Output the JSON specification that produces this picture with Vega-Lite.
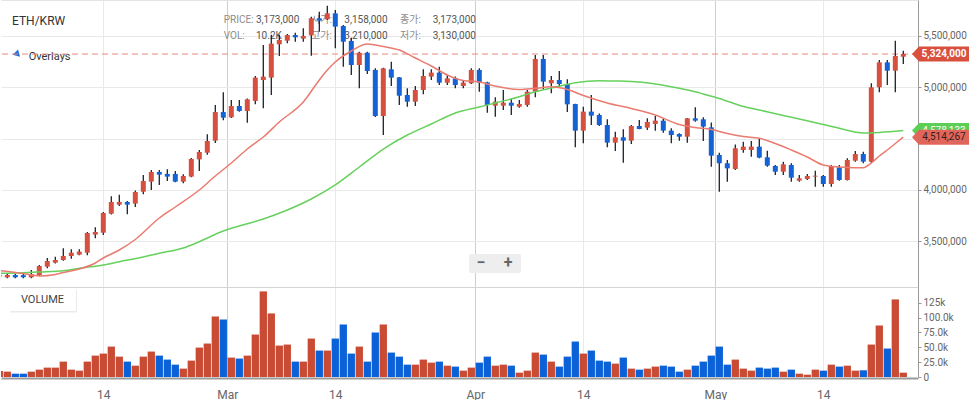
{
  "$schema": "https://vega.github.io/schema/vega-lite/v6.json",
  "padding": 0,
  "background": "white",
  "spacing": 0,
  "data": {"values": [{}]},
  "config": {
    "view": {"stroke": null},
    "font": "Roboto, Noto Sans CJK KR, sans-serif"
  },
  "datasets": {
    "candles": [
      {"d":"2024-02-01","o":3158000,"h":3210000,"l":3130000,"c":3173000,"v":10200},
      {"d":"2024-02-02","o":3149000,"h":3181000,"l":3139000,"c":3172000,"v":9000},
      {"d":"2024-02-03","o":3172000,"h":3185000,"l":3140000,"c":3149000,"v":5600},
      {"d":"2024-02-04","o":3170000,"h":3188000,"l":3139000,"c":3150000,"v":5600},
      {"d":"2024-02-05","o":3149000,"h":3220000,"l":3139000,"c":3181000,"v":9000},
      {"d":"2024-02-06","o":3172000,"h":3269000,"l":3162000,"c":3259000,"v":12400},
      {"d":"2024-02-07","o":3253000,"h":3337000,"l":3237000,"c":3308000,"v":15800},
      {"d":"2024-02-08","o":3292000,"h":3350000,"l":3285000,"c":3318000,"v":15800},
      {"d":"2024-02-09","o":3318000,"h":3432000,"l":3311000,"c":3357000,"v":25900},
      {"d":"2024-02-10","o":3357000,"h":3422000,"l":3331000,"c":3389000,"v":12400},
      {"d":"2024-02-11","o":3370000,"h":3422000,"l":3363000,"c":3399000,"v":10700},
      {"d":"2024-02-12","o":3389000,"h":3591000,"l":3363000,"c":3581000,"v":25900},
      {"d":"2024-02-13","o":3565000,"h":3636000,"l":3529000,"c":3591000,"v":36000},
      {"d":"2024-02-14","o":3584000,"h":3785000,"l":3562000,"c":3776000,"v":39400},
      {"d":"2024-02-15","o":3769000,"h":3938000,"l":3760000,"c":3883000,"v":51200},
      {"d":"2024-02-16","o":3857000,"h":3954000,"l":3844000,"c":3883000,"v":34300},
      {"d":"2024-02-17","o":3883000,"h":3893000,"l":3763000,"c":3857000,"v":25900},
      {"d":"2024-02-18","o":3867000,"h":3996000,"l":3834000,"c":3980000,"v":19100},
      {"d":"2024-02-19","o":3983000,"h":4146000,"l":3958000,"c":4087000,"v":34300},
      {"d":"2024-02-20","o":4081000,"h":4195000,"l":4000000,"c":4175000,"v":42800},
      {"d":"2024-02-21","o":4175000,"h":4195000,"l":4048000,"c":4149000,"v":36000},
      {"d":"2024-02-22","o":4156000,"h":4201000,"l":4087000,"c":4130000,"v":29300},
      {"d":"2024-02-23","o":4156000,"h":4185000,"l":4075000,"c":4081000,"v":20800},
      {"d":"2024-02-24","o":4081000,"h":4152000,"l":4065000,"c":4136000,"v":14100},
      {"d":"2024-02-25","o":4130000,"h":4311000,"l":4123000,"c":4302000,"v":27600},
      {"d":"2024-02-26","o":4298000,"h":4389000,"l":4185000,"c":4370000,"v":49500},
      {"d":"2024-02-27","o":4363000,"h":4542000,"l":4344000,"c":4477000,"v":56300},
      {"d":"2024-02-28","o":4480000,"h":4828000,"l":4458000,"c":4759000,"v":101900},
      {"d":"2024-02-29","o":4759000,"h":4951000,"l":4678000,"c":4704000,"v":96800},
      {"d":"2024-03-01","o":4708000,"h":4876000,"l":4700000,"c":4818000,"v":32700},
      {"d":"2024-03-02","o":4818000,"h":4876000,"l":4763000,"c":4769000,"v":31000},
      {"d":"2024-03-03","o":4769000,"h":4890000,"l":4655000,"c":4883000,"v":36000},
      {"d":"2024-03-04","o":4867000,"h":5110000,"l":4834000,"c":5094000,"v":71500},
      {"d":"2024-03-05","o":5071000,"h":5412000,"l":4795000,"c":5104000,"v":144100},
      {"d":"2024-03-06","o":5094000,"h":5513000,"l":4925000,"c":5425000,"v":107000},
      {"d":"2024-03-07","o":5419000,"h":5513000,"l":5305000,"c":5461000,"v":52900},
      {"d":"2024-03-08","o":5454000,"h":5519000,"l":5428000,"c":5509000,"v":54600},
      {"d":"2024-03-09","o":5509000,"h":5532000,"l":5444000,"c":5487000,"v":25900},
      {"d":"2024-03-10","o":5474000,"h":5574000,"l":5444000,"c":5500000,"v":25900},
      {"d":"2024-03-11","o":5506000,"h":5688000,"l":5308000,"c":5672000,"v":64700},
      {"d":"2024-03-12","o":5672000,"h":5737000,"l":5542000,"c":5649000,"v":44500},
      {"d":"2024-03-13","o":5662000,"h":5795000,"l":5655000,"c":5720000,"v":44500},
      {"d":"2024-03-14","o":5720000,"h":5753000,"l":5380000,"c":5591000,"v":64700},
      {"d":"2024-03-15","o":5597000,"h":5607000,"l":5201000,"c":5444000,"v":88400},
      {"d":"2024-03-16","o":5451000,"h":5483000,"l":5120000,"c":5217000,"v":39400},
      {"d":"2024-03-17","o":5217000,"h":5347000,"l":4990000,"c":5337000,"v":51200},
      {"d":"2024-03-18","o":5337000,"h":5347000,"l":5130000,"c":5159000,"v":25900},
      {"d":"2024-03-19","o":5169000,"h":5185000,"l":4710000,"c":4720000,"v":74900},
      {"d":"2024-03-20","o":4720000,"h":5190000,"l":4535000,"c":5185000,"v":88400},
      {"d":"2024-03-21","o":5175000,"h":5250000,"l":5013000,"c":5094000,"v":41100},
      {"d":"2024-03-22","o":5097000,"h":5100000,"l":4828000,"c":4918000,"v":34300},
      {"d":"2024-03-23","o":4925000,"h":4990000,"l":4811000,"c":4860000,"v":20800},
      {"d":"2024-03-24","o":4860000,"h":5013000,"l":4818000,"c":4974000,"v":20800},
      {"d":"2024-03-25","o":4974000,"h":5175000,"l":4932000,"c":5110000,"v":29300},
      {"d":"2024-03-26","o":5104000,"h":5175000,"l":5071000,"c":5143000,"v":24200},
      {"d":"2024-03-27","o":5143000,"h":5201000,"l":5022000,"c":5045000,"v":25900},
      {"d":"2024-03-28","o":5045000,"h":5120000,"l":5022000,"c":5087000,"v":19100},
      {"d":"2024-03-29","o":5087000,"h":5104000,"l":4990000,"c":5022000,"v":17500},
      {"d":"2024-03-30","o":5013000,"h":5071000,"l":4990000,"c":5045000,"v":10700},
      {"d":"2024-03-31","o":5039000,"h":5185000,"l":5032000,"c":5169000,"v":15800},
      {"d":"2024-04-01","o":5169000,"h":5185000,"l":4957000,"c":5045000,"v":24200},
      {"d":"2024-04-02","o":5048000,"h":5055000,"l":4753000,"c":4828000,"v":34300},
      {"d":"2024-04-03","o":4821000,"h":4902000,"l":4714000,"c":4860000,"v":19100},
      {"d":"2024-04-04","o":4821000,"h":4974000,"l":4779000,"c":4850000,"v":20800},
      {"d":"2024-04-05","o":4850000,"h":4886000,"l":4730000,"c":4821000,"v":19100},
      {"d":"2024-04-06","o":4811000,"h":4876000,"l":4802000,"c":4837000,"v":7300},
      {"d":"2024-04-07","o":4828000,"h":4974000,"l":4811000,"c":4957000,"v":10700},
      {"d":"2024-04-08","o":4957000,"h":5315000,"l":4902000,"c":5276000,"v":41100},
      {"d":"2024-04-09","o":5276000,"h":5315000,"l":4983000,"c":5055000,"v":37700},
      {"d":"2024-04-10","o":5039000,"h":5110000,"l":4941000,"c":5071000,"v":25900},
      {"d":"2024-04-11","o":5071000,"h":5159000,"l":5006000,"c":5032000,"v":17500},
      {"d":"2024-04-12","o":5032000,"h":5078000,"l":4759000,"c":4834000,"v":34300},
      {"d":"2024-04-13","o":4837000,"h":4840000,"l":4415000,"c":4578000,"v":59700},
      {"d":"2024-04-14","o":4578000,"h":4811000,"l":4454000,"c":4763000,"v":39400},
      {"d":"2024-04-15","o":4763000,"h":4925000,"l":4633000,"c":4724000,"v":44500},
      {"d":"2024-04-16","o":4730000,"h":4746000,"l":4623000,"c":4633000,"v":27600},
      {"d":"2024-04-17","o":4633000,"h":4688000,"l":4415000,"c":4461000,"v":25900},
      {"d":"2024-04-18","o":4461000,"h":4568000,"l":4380000,"c":4513000,"v":22500},
      {"d":"2024-04-19","o":4513000,"h":4591000,"l":4266000,"c":4480000,"v":32700},
      {"d":"2024-04-20","o":4480000,"h":4633000,"l":4448000,"c":4623000,"v":14100},
      {"d":"2024-04-21","o":4623000,"h":4681000,"l":4591000,"c":4594000,"v":12400},
      {"d":"2024-04-22","o":4607000,"h":4698000,"l":4584000,"c":4662000,"v":14100},
      {"d":"2024-04-23","o":4643000,"h":4720000,"l":4578000,"c":4675000,"v":17500},
      {"d":"2024-04-24","o":4675000,"h":4698000,"l":4558000,"c":4578000,"v":19100},
      {"d":"2024-04-25","o":4578000,"h":4600000,"l":4454000,"c":4535000,"v":17500},
      {"d":"2024-04-26","o":4545000,"h":4552000,"l":4480000,"c":4519000,"v":9000},
      {"d":"2024-04-27","o":4519000,"h":4700000,"l":4461000,"c":4698000,"v":12400},
      {"d":"2024-04-28","o":4698000,"h":4805000,"l":4665000,"c":4675000,"v":19100},
      {"d":"2024-04-29","o":4688000,"h":4708000,"l":4477000,"c":4617000,"v":25900},
      {"d":"2024-04-30","o":4610000,"h":4656000,"l":4227000,"c":4334000,"v":36000},
      {"d":"2024-05-01","o":4341000,"h":4363000,"l":3983000,"c":4260000,"v":51200},
      {"d":"2024-05-02","o":4260000,"h":4292000,"l":4081000,"c":4211000,"v":20800},
      {"d":"2024-05-03","o":4204000,"h":4444000,"l":4194000,"c":4406000,"v":29300},
      {"d":"2024-05-04","o":4389000,"h":4470000,"l":4363000,"c":4422000,"v":14100},
      {"d":"2024-05-05","o":4389000,"h":4477000,"l":4324000,"c":4422000,"v":10700},
      {"d":"2024-05-06","o":4422000,"h":4503000,"l":4308000,"c":4315000,"v":15800},
      {"d":"2024-05-07","o":4318000,"h":4383000,"l":4227000,"c":4237000,"v":14100},
      {"d":"2024-05-08","o":4234000,"h":4243000,"l":4146000,"c":4178000,"v":15800},
      {"d":"2024-05-09","o":4178000,"h":4276000,"l":4146000,"c":4250000,"v":9000},
      {"d":"2024-05-10","o":4243000,"h":4260000,"l":4081000,"c":4120000,"v":12400},
      {"d":"2024-05-11","o":4091000,"h":4146000,"l":4081000,"c":4113000,"v":5600},
      {"d":"2024-05-12","o":4107000,"h":4155000,"l":4097000,"c":4136000,"v":3900},
      {"d":"2024-05-13","o":4130000,"h":4188000,"l":4032000,"c":4139000,"v":12400},
      {"d":"2024-05-14","o":4136000,"h":4146000,"l":4032000,"c":4058000,"v":10700},
      {"d":"2024-05-15","o":4058000,"h":4243000,"l":4032000,"c":4233000,"v":20800},
      {"d":"2024-05-16","o":4220000,"h":4243000,"l":4090000,"c":4097000,"v":17500},
      {"d":"2024-05-17","o":4097000,"h":4308000,"l":4091000,"c":4292000,"v":19100},
      {"d":"2024-05-18","o":4285000,"h":4380000,"l":4276000,"c":4350000,"v":10700},
      {"d":"2024-05-19","o":4350000,"h":4373000,"l":4260000,"c":4276000,"v":11300},
      {"d":"2024-05-20","o":4276000,"h":5039000,"l":4260000,"c":5000000,"v":54600},
      {"d":"2024-05-21","o":5000000,"h":5266000,"l":4951000,"c":5243000,"v":86700},
      {"d":"2024-05-22","o":5243000,"h":5266000,"l":5022000,"c":5162000,"v":47900},
      {"d":"2024-05-23","o":5162000,"h":5454000,"l":4951000,"c":5305000,"v":130600},
      {"d":"2024-05-24","o":5298000,"h":5357000,"l":5227000,"c":5324000,"v":7300}
    ],
    "ma_fast": [
      {"d":"2024-02-01","m":3215600},{"d":"2024-02-04","m":3186400},{"d":"2024-02-06","m":3162100},
      {"d":"2024-02-08","m":3176700},{"d":"2024-02-09","m":3196200},{"d":"2024-02-11","m":3230200},
      {"d":"2024-02-13","m":3288700},{"d":"2024-02-14","m":3337400},{"d":"2024-02-16","m":3415300},
      {"d":"2024-02-18","m":3517600},{"d":"2024-02-21","m":3727000},{"d":"2024-02-23","m":3834100},
      {"d":"2024-02-26","m":3999700},{"d":"2024-02-28","m":4136100},{"d":"2024-03-01","m":4262700},
      {"d":"2024-03-03","m":4399000},{"d":"2024-03-05","m":4515900},{"d":"2024-03-07","m":4662000},
      {"d":"2024-03-10","m":4856800},{"d":"2024-03-12","m":5071100},{"d":"2024-03-13","m":5168500},
      {"d":"2024-03-14","m":5246400},{"d":"2024-03-16","m":5353600},{"d":"2024-03-18","m":5421700},
      {"d":"2024-03-20","m":5397400},{"d":"2024-03-22","m":5363300},{"d":"2024-03-24","m":5285400},
      {"d":"2024-03-26","m":5207500},{"d":"2024-03-28","m":5119800},{"d":"2024-03-30","m":5066200},
      {"d":"2024-04-01","m":5051600},{"d":"2024-04-03","m":5012700},{"d":"2024-04-06","m":4978600},
      {"d":"2024-04-08","m":4990300},{"d":"2024-04-10","m":5004900},{"d":"2024-04-12","m":4978600},
      {"d":"2024-04-14","m":4920100},{"d":"2024-04-17","m":4847100},{"d":"2024-04-20","m":4793500},
      {"d":"2024-04-23","m":4730200},{"d":"2024-04-26","m":4637700},{"d":"2024-04-28","m":4608500},
      {"d":"2024-04-30","m":4589000},{"d":"2024-05-02","m":4550000},{"d":"2024-05-04","m":4520800},
      {"d":"2024-05-06","m":4503300},{"d":"2024-05-08","m":4452600},{"d":"2024-05-10","m":4389300},
      {"d":"2024-05-12","m":4321100},{"d":"2024-05-14","m":4243200},{"d":"2024-05-16","m":4223700},
      {"d":"2024-05-18","m":4216900},{"d":"2024-05-19","m":4216900},{"d":"2024-05-20","m":4262700},
      {"d":"2024-05-21","m":4330900},{"d":"2024-05-22","m":4389300},{"d":"2024-05-23","m":4452600},
      {"d":"2024-05-24","m":4514267}
    ],
    "ma_slow": [
      {"d":"2024-02-01","m":3188400},{"d":"2024-02-04","m":3194200},{"d":"2024-02-06","m":3201000},
      {"d":"2024-02-09","m":3213700},{"d":"2024-02-11","m":3237100},{"d":"2024-02-14","m":3269200},
      {"d":"2024-02-16","m":3301300},{"d":"2024-02-19","m":3347100},{"d":"2024-02-21","m":3383200},
      {"d":"2024-02-24","m":3434800},{"d":"2024-02-26","m":3496100},{"d":"2024-02-29","m":3600400},
      {"d":"2024-03-02","m":3649100},{"d":"2024-03-05","m":3717200},{"d":"2024-03-08","m":3804900},
      {"d":"2024-03-11","m":3912000},{"d":"2024-03-14","m":4048400},{"d":"2024-03-17","m":4223700},
      {"d":"2024-03-20","m":4399000},{"d":"2024-03-23","m":4535400},{"d":"2024-03-26","m":4642500},
      {"d":"2024-03-29","m":4749700},{"d":"2024-04-01","m":4808100},{"d":"2024-04-03","m":4847100},
      {"d":"2024-04-06","m":4908400},{"d":"2024-04-08","m":4957100},{"d":"2024-04-11","m":5010700},
      {"d":"2024-04-13","m":5044800},{"d":"2024-04-16","m":5064300},{"d":"2024-04-18","m":5061400},
      {"d":"2024-04-21","m":5051600},{"d":"2024-04-23","m":5032100},{"d":"2024-04-26","m":4990300},
      {"d":"2024-04-28","m":4957100},{"d":"2024-04-29","m":4934700},{"d":"2024-05-01","m":4890900},
      {"d":"2024-05-04","m":4813000},{"d":"2024-05-06","m":4778900},{"d":"2024-05-09","m":4725300},
      {"d":"2024-05-11","m":4691200},{"d":"2024-05-14","m":4637700},{"d":"2024-05-16","m":4600700},
      {"d":"2024-05-19","m":4554900},{"d":"2024-05-21","m":4559800},{"d":"2024-05-24","m":4578100}
    ]
  },
  "vconcat": [
    {
      "width": 917,
      "height": 287,
      "resolve": {"axis": {"x": "independent", "y": "independent"}},
      "layer": [
        {
          "data": {"name": "candles"},
          "mark": {"type": "point", "opacity": 0, "size": 0, "clip": true},
          "encoding": {
            "x": {
              "field": "d", "type": "temporal",
              "scale": {"type":"utc","domain":[1706807160000, 1716710760000]},
              "axis": {
                "orient": "bottom", "title": null, "labels": false, "ticks": false,
                "domain": true, "domainColor": "#d4d4d4",
                "grid": true, "gridColor": "#e9e9e9",
                "values": [1707912000000, 1710417600000, 1713096000000, 1715688000000]
              }
            },
            "y": {
              "field": "c", "type": "quantitative",
              "scale": {"domain":[3054900,5850300],"nice":false,"zero":false},
              "axis": {
                "orient": "right", "title": null,
                "values": [3500000, 4000000, 4500000, 5000000, 5500000],
                "labelExpr": "datum.value == 4500000 ? '' : format(datum.value, ',d')",
                "labelColor": "#666666", "labelFontSize": 10, "labelPadding": 2,
                "tickSize": 3, "tickColor": "#999999", "domainColor": "#9a9a9a",
                "grid": true, "gridColor": "#e9e9e9"
              }
            }
          }
        },
        {
          "data": {"name": "candles"},
          "mark": {"type": "point", "opacity": 0, "size": 0, "clip": true},
          "encoding": {
            "x": {
              "field": "d", "type": "temporal",
              "axis": {
                "orient": "top", "title": null, "labels": false, "ticks": false,
                "domain": true, "domainColor": "#e4e4e4",
                "grid": true, "gridColor": "#cdcdcd",
                "values": [1709251200000, 1711929600000, 1714521600000]
              }
            },
            "y": {"field": "c", "type": "quantitative", "axis": null}
          }
        },
        {
          "mark": {"type": "text", "align": "left", "baseline": "alphabetic", "fontSize": 12, "color": "#333333"},
          "encoding": {
            "x": {"datum": {"year":2024,"month":2,"date":3,"hours":2,"minutes":6,"utc":true}, "type": "temporal", "axis": null},
            "y": {"datum": 5606800, "type": "quantitative", "axis": null},
            "text": {"value": "ETH/KRW"}
          }
        },
        {
          "mark": {"type": "point", "shape": "triangle-right", "filled": true, "size": 60, "color": "#2a6edb", "opacity": 1, "angle": 45},
          "encoding": {
            "x": {"datum": {"year":2024,"month":2,"date":3,"hours":19,"minutes":12,"utc":true}, "type": "temporal", "axis": null},
            "y": {"datum": 5319500, "type": "quantitative", "axis": null}
          }
        },
        {
          "mark": {"type": "text", "align": "left", "baseline": "alphabetic", "fontSize": 11, "color": "#333333"},
          "encoding": {
            "x": {"datum": {"year":2024,"month":2,"date":5,"hours":4,"minutes":12,"utc":true}, "type": "temporal", "axis": null},
            "y": {"datum": 5265900, "type": "quantitative", "axis": null},
            "text": {"value": "Overlays"}
          }
        },
        {
          "mark": {"type": "text", "align": "left", "baseline": "alphabetic", "fontSize": 10, "lineHeight": 16.5, "color": "#8c8c8c"},
          "encoding": {
            "x": {"datum": {"year":2024,"month":2,"date":29,"hours":13,"minutes":12,"utc":true}, "type": "temporal", "axis": null},
            "y": {"datum": 5626300, "type": "quantitative", "axis": null},
            "text": {"value": ["PRICE:", "VOL:"]}
          }
        },
        {
          "mark": {"type": "text", "align": "left", "baseline": "alphabetic", "fontSize": 10, "lineHeight": 16.5, "color": "#555555"},
          "encoding": {
            "x": {"datum": {"year":2024,"month":3,"date":4,"hours":14,"minutes":6,"utc":true}, "type": "temporal", "axis": null},
            "y": {"datum": 5626300, "type": "quantitative", "axis": null},
            "text": {"value": ["3,173,000", "10.2K"]}
          }
        },
        {
          "mark": {"type": "text", "align": "left", "baseline": "alphabetic", "fontSize": 10, "lineHeight": 16.5, "color": "#8c8c8c"},
          "encoding": {
            "x": {"datum": {"year":2024,"month":3,"date":11,"hours":11,"minutes":6,"utc":true}, "type": "temporal", "axis": null},
            "y": {"datum": 5626300, "type": "quantitative", "axis": null},
            "text": {"value": ["시가:", "고가:"]}
          }
        },
        {
          "mark": {"type": "text", "align": "left", "baseline": "alphabetic", "fontSize": 10, "lineHeight": 16.5, "color": "#555555"},
          "encoding": {
            "x": {"datum": {"year":2024,"month":3,"date":15,"hours":15,"minutes":6,"utc":true}, "type": "temporal", "axis": null},
            "y": {"datum": 5626300, "type": "quantitative", "axis": null},
            "text": {"value": ["3,158,000", "3,210,000"]}
          }
        },
        {
          "mark": {"type": "text", "align": "left", "baseline": "alphabetic", "fontSize": 10, "lineHeight": 16.5, "color": "#8c8c8c"},
          "encoding": {
            "x": {"datum": {"year":2024,"month":3,"date":22,"hours":14,"minutes":6,"utc":true}, "type": "temporal", "axis": null},
            "y": {"datum": 5626300, "type": "quantitative", "axis": null},
            "text": {"value": ["종가:", "저가:"]}
          }
        },
        {
          "mark": {"type": "text", "align": "left", "baseline": "alphabetic", "fontSize": 10, "lineHeight": 16.5, "color": "#555555"},
          "encoding": {
            "x": {"datum": {"year":2024,"month":3,"date":26,"hours":16,"minutes":6,"utc":true}, "type": "temporal", "axis": null},
            "y": {"datum": 5626300, "type": "quantitative", "axis": null},
            "text": {"value": ["3,173,000", "3,130,000"]}
          }
        },
        {
          "mark": {"type": "rect", "color": "#eeeeee", "cornerRadius": 2},
          "encoding": {
            "x": {"datum": {"year":2024,"month":3,"date":31,"hours":5,"minutes":6,"utc":true}, "type": "temporal", "axis": null},
            "x2": {"datum": {"year":2024,"month":4,"date":6,"hours":17,"minutes":6,"utc":true}},
            "y": {"datum": 3376400, "type": "quantitative", "axis": null},
            "y2": {"datum": 3191300}
          }
        },
        {
          "mark": {"type": "text", "align": "center", "baseline": "middle", "fontSize": 16, "fontWeight": "bold", "color": "#666666"},
          "encoding": {
            "x": {"datum": {"year":2024,"month":4,"date":1,"hours":17,"minutes":6,"utc":true}, "type": "temporal", "axis": null},
            "y": {"datum": 3288700, "type": "quantitative", "axis": null},
            "text": {"value": "−"}
          }
        },
        {
          "mark": {"type": "text", "align": "center", "baseline": "middle", "fontSize": 16, "fontWeight": "bold", "color": "#666666"},
          "encoding": {
            "x": {"datum": {"year":2024,"month":4,"date":5,"hours":2,"minutes":6,"utc":true}, "type": "temporal", "axis": null},
            "y": {"datum": 3288700, "type": "quantitative", "axis": null},
            "text": {"value": "+"}
          }
        },
        {
          "mark": {"type": "rule", "color": "#e8877d", "strokeDash": [6, 4], "strokeWidth": 1},
          "encoding": {
            "y": {"datum": 5324000, "type": "quantitative", "axis": null}
          }
        },
        {
          "data": {"name": "candles"},
          "mark": {"type": "rule", "color": "#17202e", "strokeWidth": 1.3, "clip": true},
          "encoding": {
            "x": {"field": "d", "type": "temporal", "timeUnit": "utcyearmonthdate", "bandPosition": 0.5, "axis": null},
            "y": {"field": "l", "type": "quantitative", "axis": null},
            "y2": {"field": "h"}
          }
        },
        {
          "data": {"name": "candles"},
          "mark": {"type": "rule", "strokeWidth": 5, "clip": true},
          "encoding": {
            "x": {"field": "d", "type": "temporal", "timeUnit": "utcyearmonthdate", "bandPosition": 0.5, "axis": null},
            "y": {"field": "o", "type": "quantitative", "axis": null},
            "y2": {"field": "c"},
            "color": {"condition": {"test": "datum.c >= datum.o", "value": "#d5503f"}, "value": "#1462d4"}
          }
        },
        {
          "data": {"name": "ma_slow"},
          "mark": {"type": "line", "color": "#66d15c", "strokeWidth": 1.5, "interpolate": "monotone", "clip": true},
          "encoding": {
            "x": {"field": "d", "type": "temporal", "timeUnit": "utcyearmonthdate", "bandPosition": 0.5, "axis": null},
            "y": {"field": "m", "type": "quantitative", "axis": null}
          }
        },
        {
          "data": {"name": "ma_fast"},
          "mark": {"type": "line", "color": "#ea7b70", "strokeWidth": 1.5, "interpolate": "monotone", "clip": true},
          "encoding": {
            "x": {"field": "d", "type": "temporal", "timeUnit": "utcyearmonthdate", "bandPosition": 0.5, "axis": null},
            "y": {"field": "m", "type": "quantitative", "axis": null}
          }
        },
        {
          "mark": {"type": "point", "shape": "M-1,0L-0.754,-0.263L1,-0.263L1,0.263L-0.754,0.263Z", "filled": true, "size": 3249, "color": "#5ccf57", "opacity": 1},
          "encoding": {
            "x": {"datum": {"year":2024,"month":5,"date":29,"hours":3,"minutes":36,"utc":true}, "type": "temporal", "axis": null},
            "y": {"datum": 4578100, "type": "quantitative", "axis": null}
          }
        },
        {
          "mark": {"type": "text", "align": "center", "baseline": "middle", "dx": 3.5, "fontSize": 10, "color": "#ffffff"},
          "encoding": {
            "x": {"datum": {"year":2024,"month":5,"date":29,"hours":3,"minutes":36,"utc":true}, "type": "temporal", "axis": null},
            "y": {"datum": 4578100, "type": "quantitative", "axis": null},
            "text": {"value": "4,578,133"}
          }
        },
        {
          "mark": {"type": "point", "shape": "M-1,0L-0.754,-0.263L1,-0.263L1,0.263L-0.754,0.263Z", "filled": true, "size": 3249, "color": "#e0665b", "opacity": 1},
          "encoding": {
            "x": {"datum": {"year":2024,"month":5,"date":29,"hours":3,"minutes":36,"utc":true}, "type": "temporal", "axis": null},
            "y": {"datum": 4514267, "type": "quantitative", "axis": null}
          }
        },
        {
          "mark": {"type": "text", "align": "center", "baseline": "middle", "dx": 3.5, "fontSize": 10, "color": "#3a1c1c"},
          "encoding": {
            "x": {"datum": {"year":2024,"month":5,"date":29,"hours":3,"minutes":36,"utc":true}, "type": "temporal", "axis": null},
            "y": {"datum": 4514267, "type": "quantitative", "axis": null},
            "text": {"value": "4,514,267"}
          }
        },
        {
          "mark": {"type": "point", "shape": "M-1,0L-0.754,-0.263L1,-0.263L1,0.263L-0.754,0.263Z", "filled": true, "size": 3249, "color": "#d9503f", "opacity": 1},
          "encoding": {
            "x": {"datum": {"year":2024,"month":5,"date":29,"hours":3,"minutes":36,"utc":true}, "type": "temporal", "axis": null},
            "y": {"datum": 5324000, "type": "quantitative", "axis": null}
          }
        },
        {
          "mark": {"type": "text", "align": "center", "baseline": "middle", "dx": 3.5, "fontSize": 10, "fontWeight": "bold", "color": "#ffffff"},
          "encoding": {
            "x": {"datum": {"year":2024,"month":5,"date":29,"hours":3,"minutes":36,"utc":true}, "type": "temporal", "axis": null},
            "y": {"datum": 5324000, "type": "quantitative", "axis": null},
            "text": {"value": "5,324,000"}
          }
        }
      ]
    },
    {
      "width": 917,
      "height": 90,
      "resolve": {"axis": {"x": "independent", "y": "independent"}},
      "layer": [
        {
          "data": {"name": "candles"},
          "mark": {"type": "point", "opacity": 0, "size": 0, "clip": true},
          "encoding": {
            "x": {
              "field": "d", "type": "temporal",
              "scale": {"type":"utc","domain":[1706807160000, 1716710760000]},
              "axis": {
                "orient": "bottom", "title": null, "ticks": false,
                "labelPadding": 11, "labelFontSize": 12, "labelColor": "#666666",
                "labelExpr": "utcFormat(datum.value, '%d') == '01' ? utcFormat(datum.value, '%b') : utcFormat(datum.value, '%d')",
                "domain": true, "domainColor": "#9a9a9a", "domainWidth": 2, "offset": 1,
                "grid": true, "gridColor": "#e9e9e9",
                "values": [1707912000000, 1709251200000, 1710417600000, 1711929600000, 1713096000000, 1714521600000, 1715688000000]
              }
            },
            "y": {
              "field": "v", "type": "quantitative",
              "scale": {"domain": [0, 151500], "nice": false},
              "axis": {
                "orient": "right", "title": null, "grid": false,
                "values": [0, 25000, 50000, 75000, 100000, 125000],
                "labelExpr": "datum.value == 0 ? '0' : datum.value == 125000 ? '125k' : format(datum.value / 1000, '.1f') + 'k'",
                "labelColor": "#666666", "labelFontSize": 10, "labelPadding": 2,
                "tickSize": 3, "tickColor": "#999999", "domainColor": "#9a9a9a"
              }
            }
          }
        },
        {
          "data": {"name": "candles"},
          "mark": {"type": "point", "opacity": 0, "size": 0, "clip": true},
          "encoding": {
            "x": {
              "field": "d", "type": "temporal",
              "axis": {
                "orient": "top", "title": null, "labels": false, "ticks": false,
                "domain": true, "domainColor": "#d4d4d4",
                "grid": true, "gridColor": "#cdcdcd",
                "values": [1709251200000, 1711929600000, 1714521600000]
              }
            },
            "y": {"field": "v", "type": "quantitative", "axis": null}
          }
        },
        {
          "data": {"name": "candles"},
          "mark": {"type": "rule", "strokeWidth": 7.3, "clip": true},
          "encoding": {
            "x": {"field": "d", "type": "temporal", "timeUnit": "utcyearmonthdate", "bandPosition": 0.5, "axis": null},
            "y": {"field": "v", "type": "quantitative", "axis": null},
            "y2": {"datum": 0},
            "color": {"condition": {"test": "datum.c >= datum.o", "value": "#c94b33"}, "value": "#0b62d8"}
          }
        },
        {
          "mark": {"type": "rect", "color": "#000000", "opacity": 0.08},
          "encoding": {
            "x": {"datum": {"year":2024,"month":2,"date":2,"hours":20,"minutes":6,"utc":true}, "type": "temporal", "axis": null},
            "x2": {"datum": {"year":2024,"month":2,"date":11,"hours":5,"minutes":6,"utc":true}},
            "y": {"datum": 146400, "type": "quantitative", "axis": null},
            "y2": {"datum": 108600}
          }
        },
        {
          "mark": {"type": "rect", "color": "#ffffff"},
          "encoding": {
            "x": {"datum": {"year":2024,"month":2,"date":2,"hours":17,"minutes":6,"utc":true}, "type": "temporal", "axis": null},
            "x2": {"datum": {"year":2024,"month":2,"date":11,"hours":2,"minutes":6,"utc":true}},
            "y": {"datum": 148100, "type": "quantitative", "axis": null},
            "y2": {"datum": 111100}
          }
        },
        {
          "mark": {"type": "text", "align": "center", "baseline": "middle", "fontSize": 11, "color": "#444444"},
          "encoding": {
            "x": {"datum": {"year":2024,"month":2,"date":6,"hours":21,"minutes":36,"utc":true}, "type": "temporal", "axis": null},
            "y": {"datum": 129600, "type": "quantitative", "axis": null},
            "text": {"value": "VOLUME"}
          }
        }
      ]
    }
  ]
}
